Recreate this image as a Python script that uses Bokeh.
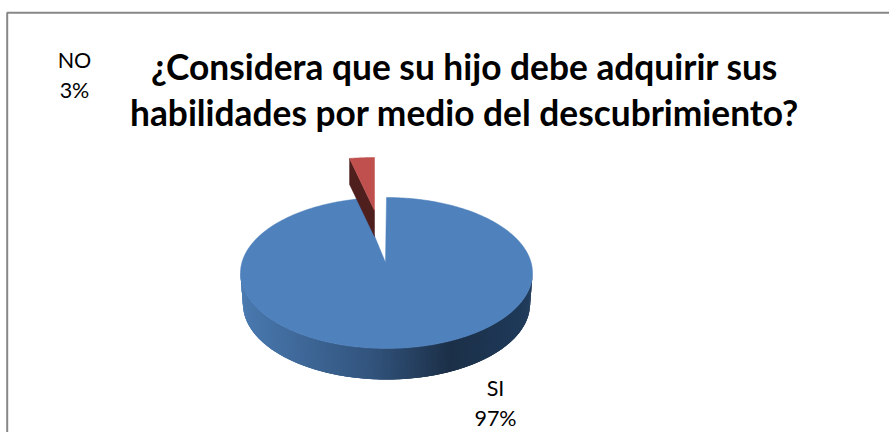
from math import cos, sin, radians
from bokeh.plotting import figure
from bokeh.models import Range1d
from bokeh.core.properties import value
from bokeh.embed import file_html
from bokeh.resources import INLINE

# Survey answers, in percent
categories = ["SI", "NO"]
shares = [97, 3]
title_lines = ["¿Considera que su hijo debe adquirir sus",
               "habilidades por medio del descubrimiento?"]
FONT = "Lato"

W, H = 889, 432
p = figure(width=W, height=H, output_backend="svg", toolbar_location=None,
           x_range=Range1d(0, W), y_range=Range1d(H, 0), min_border=0,
           outline_line_color=None, background_fill_color="white",
           border_fill_color="white")
p.axis.visible = False
p.grid.visible = False

# Chart frame, open along the lower edge
p.line([6.7, 6.7, 889], [432, 12.3, 12.3], line_color="#888888", line_width=2)

# Projected ellipse of the disc
cx, cy, rx, ry = 386, 272.5, 146, 75.5
apex_x, apex_y = 385, 262
depth = 31
base_rx = 143.5


def rim(t, a=cx, b=cy, ra=rx, rb=ry):
    return a + ra * sin(radians(t)), b - rb * cos(radians(t))


def side_colour(x):
    # Horizontal shading of the disc wall, bright on the left, darkest past centre
    stops = [(0.0, (74, 122, 176)), (0.45, (50, 84, 125)),
             (0.72, (28, 48, 72)), (1.0, (32, 60, 92))]
    f = min(max((x - (cx - rx)) / (2 * rx), 0), 1)
    for (f0, c0), (f1, c1) in zip(stops, stops[1:]):
        if f <= f1:
            k = (f - f0) / (f1 - f0)
            return "#%02x%02x%02x" % tuple(round(u + (v - u) * k) for u, v in zip(c0, c1))
    return "#203c5c"


si_sweep = 360 * shares[0] / sum(shares)
no_sweep = 360 * shares[1] / sum(shares)

# Wall of the large slice: overlapping strips along the front rim, painted from
# right to left so each one hides the soft edge of the one before it
strip_xs, strip_ys, strip_cols = [], [], []
for i in range(0, 360):
    t = 90 + i * 0.5
    q0, q1 = rim(t), rim(t + 1.5)
    b1 = rim(t + 1.5, cx, cy + depth, base_rx, ry)
    b0 = rim(t, cx, cy + depth, base_rx, ry)
    strip_xs.append([q0[0], q1[0], b1[0], b0[0]])
    strip_ys.append([q0[1], q1[1], b1[1], b0[1]])
    strip_cols.append(side_colour(q0[0]))
p.patches(strip_xs, strip_ys, fill_color=strip_cols, line_color=None)

# Top face of the large slice
angles = [si_sweep * i / 360 for i in range(361)]
pts = [rim(a) for a in angles]
p.patch([apex_x] + [q[0] for q in pts], [apex_y] + [q[1] for q in pts],
        fill_color="#4f81bd", line_color="#4f81bd", line_width=0.5)

# Small slice, pulled away from the disc towards the upper left
no_apex_x, no_apex_y = 374, 210
no_rx, no_ry, no_depth = 133, 53, 26
outer = [rim(-no_sweep * i / 20, no_apex_x, no_apex_y, no_rx, no_ry) for i in range(21)]
left_x, left_y = outer[-1]
p.patch([left_x, left_x, no_apex_x, no_apex_x],
        [left_y, left_y + no_depth, no_apex_y + no_depth, no_apex_y],
        fill_color="#4f1f1e", line_color="#4f1f1e", line_width=0.5)
p.patch([no_apex_x] + [q[0] for q in outer], [no_apex_y] + [q[1] for q in outer],
        fill_color="#c0504d", line_color="#c0504d", line_width=0.5)

# Title, two centred lines
p.text([464, 464], [66, 112], text=title_lines, text_align="center", text_baseline="middle",
       text_font=value(FONT), text_font_style="bold", text_font_size="35.3px", text_color="black")

# Slice labels
labels = [f"{c}\n{v}%" for c, v in zip(categories, shares)]
p.text([495, 74], [402.5, 74.5], text=labels, text_align="center", text_baseline="middle",
       text_font=value(FONT), text_font_size="21.5px", text_color="black", text_line_height=1.12)

open("out.html", "w").write(file_html(p, INLINE))
